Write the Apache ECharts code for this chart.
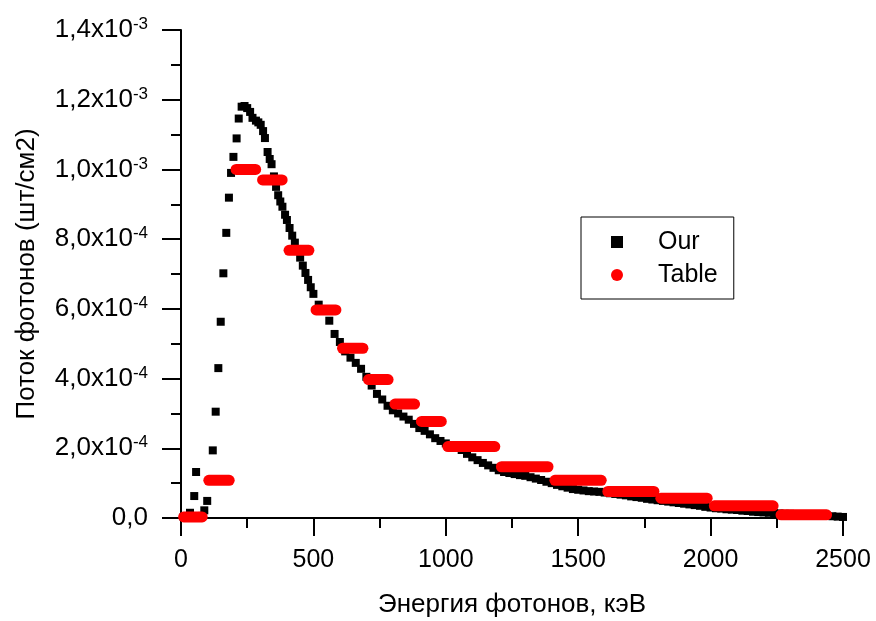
<!DOCTYPE html>
<html>
<head>
    <meta charset="utf-8">
    <title>Photon spectrum</title>
    <script src="https://cdn.jsdelivr.net/npm/echarts@6.0.0/dist/echarts.min.js"></script>
    <style>
        body { margin: 0; background: #fff; }
        #chart { width: 876px; height: 621px; }
    </style>
</head>
<body>
    <div id="chart"></div>
    <script>
        // "Our" spectrum: energy (keV) and flux in units of 1e-6 (шт/см2)
        const ourEnergy = [
            10, 20, 34, 50, 57, 70, 80, 88, 99, 120,
            131, 141, 150, 160, 171, 181, 189, 198, 210, 218,
            229, 240, 250, 261, 270, 283, 292, 301, 310, 317,
            327, 335, 342, 351, 359, 367, 375, 383, 393, 400,
            410, 420, 430, 440, 450, 460, 470, 480, 490, 500,
            520, 540, 560, 580, 600, 620, 640, 660, 680, 700,
            720, 740, 760, 780, 800, 820, 840, 860, 880, 900,
            920, 940, 960, 980, 1000, 1020, 1040, 1060, 1080, 1100,
            1120, 1140, 1160, 1180, 1200, 1220, 1240, 1260, 1280, 1300,
            1320, 1340, 1360, 1380, 1400, 1420, 1440, 1460, 1480, 1500,
            1520, 1540, 1560, 1580, 1600, 1620, 1640, 1660, 1680, 1700,
            1720, 1740, 1760, 1780, 1800, 1820, 1840, 1860, 1880, 1900,
            1920, 1940, 1960, 1980, 2000, 2020, 2040, 2060, 2080, 2100,
            2120, 2140, 2160, 2180, 2200, 2220, 2240, 2260, 2280, 2300,
            2320, 2340, 2360, 2380, 2400, 2420, 2440, 2460, 2480, 2500
        ];
        const ourFlux = [
            3, 5, 15, 63, 132, 3, 6, 22, 49, 194,
            305, 430, 563, 702, 818, 919, 990, 1036, 1089, 1146,
            1180, 1182, 1176, 1165, 1148, 1140, 1135, 1128, 1110, 1090,
            1050, 1030, 1015, 980, 950, 926, 908, 893, 870, 855,
            832, 810, 790, 770, 747, 724, 703, 683, 662, 643,
            612, 594, 566, 528, 505, 478, 460, 445, 428, 405,
            380, 356, 340, 322, 309, 300, 291, 282, 270, 258,
            250, 240, 229, 221, 214, 207, 201, 195, 184, 174,
            166, 158, 151, 144, 137, 132, 129, 126, 123, 121,
            117, 113, 109, 104, 100, 95, 91, 87, 83, 81,
            79, 77, 76, 75, 73, 71, 69, 67, 65, 62,
            60, 58, 55, 53, 51, 49, 47, 45, 43, 41,
            39, 37, 35, 32, 30, 28, 27, 25, 24, 23,
            21, 20, 18, 17, 16, 15, 14, 13, 12, 12,
            11, 10, 10, 9, 8, 7, 6, 5, 4, 3
        ];

        // "Table" spectrum: each bin is a run of points from tableFrom to tableTo (keV)
        const tableFrom = [10, 105, 208, 308, 408, 510, 610, 708, 808, 908, 1008, 1210, 1412, 1612, 1812, 2014, 2266];
        const tableTo   = [80, 182, 282, 382, 483, 585, 687, 782, 882, 983, 1185, 1386, 1587, 1786, 1987, 2236, 2438];
        const tableFlux = [3, 108, 1000, 970, 768, 597, 487, 397, 327, 277, 205, 147, 108, 76, 57, 35, 9];

        const FLUX_UNIT = 1e-6;
        const FONT = "'Liberation Sans', Arial, sans-serif";

        const ourData = ourEnergy.map((e, i) => [e, ourFlux[i] * FLUX_UNIT]);
        const tableData = tableFrom.map((f, i) => [f, tableTo[i], tableFlux[i] * FLUX_UNIT]);

        function yLabel(v) {
            if (v === 0) return '{m|0,0}';
            const exp = Math.floor(Math.log10(v) + 1e-9);
            const mant = (v / Math.pow(10, exp)).toFixed(1).replace('.', ',');
            return '{m|' + mant + 'x10}{e|' + exp + '}';
        }

        const chart = echarts.init(document.getElementById('chart'));

        chart.setOption({
            backgroundColor: '#fff',
            animation: false,
            grid: {
                left: 181, right: 33, top: 30, bottom: 103,
                containLabel: false,
                outerBoundsMode: 'none'
            },
            legend: {
                orient: 'vertical',
                left: 581,
                top: 217,
                padding: [12, 16, 11, 30],
                itemGap: 7,
                itemWidth: 12,
                itemHeight: 12,
                borderColor: '#000',
                borderWidth: 1,
                borderRadius: 0,
                textStyle: {
                    fontFamily: FONT,
                    fontSize: 25,
                    color: '#000',
                    lineHeight: 26,
                    padding: [0, 0, 0, 30]
                },
                data: [
                    { name: 'Our', icon: 'rect' },
                    { name: 'Table', icon: 'circle' }
                ]
            },
            xAxis: {
                type: 'value',
                min: 0,
                max: 2500,
                interval: 500,
                name: 'Энергия фотонов, кэВ',
                nameLocation: 'middle',
                nameGap: 74,
                nameTextStyle: { fontFamily: FONT, fontSize: 26, color: '#000' },
                axisLine: { onZero: false, lineStyle: { color: '#000', width: 2 } },
                axisTick: { inside: false, length: 18, lineStyle: { color: '#000', width: 2 } },
                minorTick: { show: true, splitNumber: 2, length: 10, lineStyle: { color: '#000', width: 2 } },
                axisLabel: {
                    margin: 30, fontFamily: FONT, fontSize: 25, color: '#000',
                    formatter: v => String(v)
                },
                splitLine: { show: false }
            },
            yAxis: {
                type: 'value',
                min: 0,
                max: 1.4e-3,
                interval: 2e-4,
                name: 'Поток фотонов (шт/см2)',
                nameLocation: 'middle',
                nameGap: 141,
                nameRotate: 90,
                nameTextStyle: { fontFamily: FONT, fontSize: 26, color: '#000' },
                axisLine: { show: true, onZero: false, lineStyle: { color: '#000', width: 2 } },
                axisTick: { show: true, inside: false, length: 19, lineStyle: { color: '#000', width: 2 } },
                minorTick: { show: true, splitNumber: 2, length: 10, lineStyle: { color: '#000', width: 2 } },
                axisLabel: {
                    margin: 33,
                    formatter: yLabel,
                    rich: {
                        m: { fontFamily: FONT, fontSize: 26, color: '#000', lineHeight: 28 },
                        e: { fontFamily: FONT, fontSize: 17, color: '#000', verticalAlign: 'top', lineHeight: 16 }
                    }
                },
                splitLine: { show: false }
            },
            series: [
                {
                    name: 'Our',
                    type: 'scatter',
                    data: ourData,
                    symbol: 'rect',
                    symbolSize: 8,
                    itemStyle: { color: '#000', opacity: 1 },
                    z: 2
                },
                {
                    name: 'Table',
                    type: 'custom',
                    data: tableData,
                    encode: { x: [0, 1], y: 2 },
                    itemStyle: { color: '#ff0000' },
                    z: 3,
                    renderItem: function (params, api) {
                        const a = api.coord([api.value(0), api.value(2)]);
                        const b = api.coord([api.value(1), api.value(2)]);
                        return {
                            type: 'line',
                            shape: { x1: a[0], y1: a[1], x2: b[0], y2: b[1] },
                            style: { stroke: '#ff0000', lineWidth: 11, lineCap: 'round' }
                        };
                    }
                }
            ]
        });
    </script>
</body>
</html>
